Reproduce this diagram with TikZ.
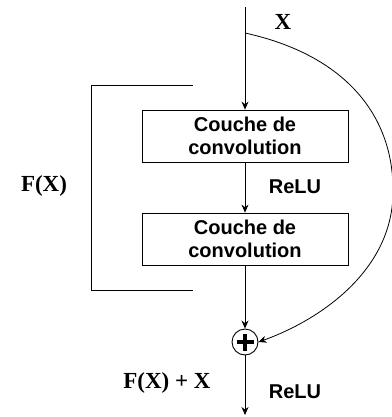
\documentclass[tikz,border=0pt]{standalone}
\usepackage{fontspec}
\setmainfont{Liberation Serif}
\setsansfont{Liberation Sans}
\usetikzlibrary{arrows.meta}

\begin{document}
\begin{tikzpicture}[x=1pt, y=-1pt]
      %% Styles
      \tikzset
      {
      layer/.style={draw, rectangle, line width=0.8pt, inner sep=0pt, minimum width=206pt, minimum height=52pt, align=center, font=\sffamily\bfseries\fontsize{20}{23}\selectfont},
      sum/.style={draw, circle, line width=0.9pt, inner sep=0pt, minimum size=26pt,
            path picture={\draw[line width=4pt] ([xshift=-8.5pt]path picture bounding box.center) -- ([xshift=8.5pt]path picture bounding box.center)
                  ([yshift=-8.5pt]path picture bounding box.center) -- ([yshift=8.5pt]path picture bounding box.center);}},
      act/.style={font=\sffamily\bfseries\fontsize{20}{24}\selectfont},
      var/.style={font=\bfseries\fontsize{23}{27}\selectfont},
      flow/.style={-{Stealth[length=8pt, width=7pt]}, line width=0.8pt},
      % bracket/.style = {-}
      }
      \useasboundingbox (0,0) rectangle (391,417);
      %% Blocks
      \node[layer] (conv1) at (245,136) {Couche de\\convolution};
      \node[layer] (conv2) at (245,239) {Couche de\\convolution};
      \node[sum] (add) at (245,342) {};
      %% Path ends
      \coordinate (in) at (245,7);
      \coordinate (split) at (245,33);
      \coordinate (bend) at (393,190);
      \coordinate (out) at (245,415);
      %% Main path
      \draw[flow] (in) -- (conv1);
      \draw[flow] (conv1) -- (conv2);
      \draw[flow] (conv2) -- (add);
      \draw[flow] (add) -- (out);
      %% Shortcut
      \draw[flow] (split) .. controls (345,55) and (393,115) .. (bend) .. controls (394,270) and (320,320) .. (add.east);
      %% Bracket round F(X)
      \coordinate (fa) at (193,85);
      \coordinate (fb) at (91,85);
      \coordinate (fc) at (91,290);
      \coordinate (fd) at (193,290);
      \draw[line width=0.8pt] (fa) -- (fb) -- (fc) -- (fd);
      %% Labels
      \node[var] (xin) at (283,22) {X};
      \node[var] (fx) at (44,186) {F(X)};
      \node[var] (res) at (167,383) {F(X) + X};
      \node[act] (relu1) at (295,187) {ReLU};
      \node[act] (relu2) at (295,392) {ReLU};
\end{tikzpicture}
\end{document}
